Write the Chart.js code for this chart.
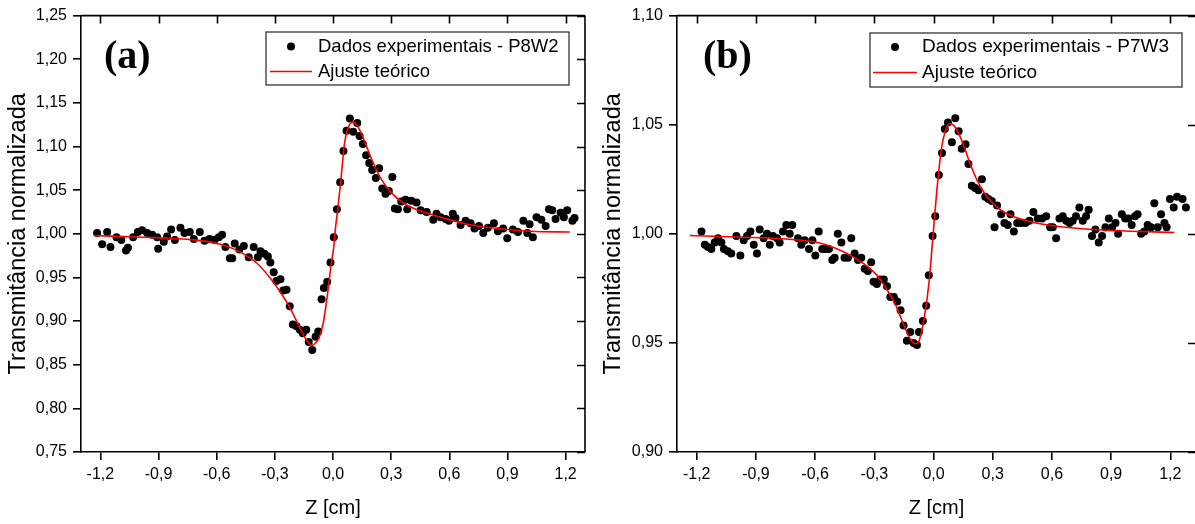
<!DOCTYPE html>
<html><head><meta charset="utf-8">
<script src="https://cdn.jsdelivr.net/npm/chart.js@4.4.0/dist/chart.umd.min.js"></script>
<style>
html,body{margin:0;padding:0;background:#fff;overflow:hidden;width:1195px;height:524px;}
#wa{position:absolute;left:0;top:0;width:595px;height:524px;}
#wb{position:absolute;left:595px;top:0;width:605px;height:524px;}
</style></head><body>
<div id="wa"><canvas id="ca" width="595" height="524"></canvas></div>
<div id="wb"><canvas id="cb" width="605" height="524"></canvas></div>
<script>
// ---------- data ----------
const xTickValues = [-1.2,-0.9,-0.6,-0.3,0.0,0.3,0.6,0.9,1.2];
const yTickValuesA = [0.75,0.80,0.85,0.90,0.95,1.00,1.05,1.10,1.15,1.20,1.25];
const yTickValuesB = [0.90,0.95,1.00,1.05,1.10];
const seriesLabelsA = ['Dados experimentais - P8W2','Ajuste teórico'];
const seriesLabelsB = ['Dados experimentais - P7W3','Ajuste teórico'];
const xAxisTitle = 'Z [cm]';
const yAxisTitle = 'Transmitância normalizada';

const expA = [[-1.217,1.001],[-1.191,0.988],[-1.165,1.002],[-1.148,0.985],[-1.117,0.996],[-1.092,0.993],[-1.068,0.981],[-1.058,0.984],[-1.031,0.996],[-1.007,1.002],[-0.985,1.004],[-0.959,1.001],[-0.933,0.999],[-0.907,0.996],[-0.902,0.983],[-0.873,0.991],[-0.856,0.997],[-0.835,1.005],[-0.816,0.993],[-0.787,1.007],[-0.766,1.001],[-0.739,1.002],[-0.718,0.994],[-0.687,1.002],[-0.663,0.992],[-0.637,0.994],[-0.612,0.993],[-0.589,0.996],[-0.572,0.999],[-0.555,0.985],[-0.532,0.972],[-0.520,0.972],[-0.507,0.989],[-0.483,0.982],[-0.460,0.986],[-0.435,0.973],[-0.409,0.985],[-0.388,0.973],[-0.374,0.980],[-0.354,0.977],[-0.336,0.974],[-0.323,0.967],[-0.306,0.956],[-0.292,0.946],[-0.271,0.948],[-0.257,0.935],[-0.240,0.936],[-0.223,0.917],[-0.207,0.896],[-0.188,0.894],[-0.171,0.890],[-0.156,0.886],[-0.138,0.890],[-0.125,0.876],[-0.107,0.867],[-0.090,0.882],[-0.076,0.888],[-0.059,0.925],[-0.047,0.938],[-0.030,0.945],[-0.013,0.967],[0.004,0.996],[0.020,1.028],[0.037,1.059],[0.054,1.095],[0.070,1.118],[0.087,1.132],[0.104,1.117],[0.125,1.127],[0.137,1.112],[0.154,1.103],[0.171,1.090],[0.187,1.081],[0.202,1.073],[0.221,1.064],[0.238,1.075],[0.254,1.052],[0.271,1.046],[0.288,1.049],[0.306,1.065],[0.319,1.029],[0.335,1.028],[0.352,1.037],[0.374,1.039],[0.383,1.028],[0.404,1.038],[0.431,1.036],[0.452,1.027],[0.483,1.025],[0.517,1.016],[0.534,1.023],[0.555,1.019],[0.581,1.017],[0.598,1.015],[0.618,1.023],[0.632,1.018],[0.658,1.010],[0.684,1.015],[0.710,1.012],[0.730,1.006],[0.753,1.009],[0.775,1.001],[0.799,1.007],[0.830,1.012],[0.851,1.003],[0.878,1.006],[0.899,0.995],[0.928,1.005],[0.954,1.002],[0.982,1.015],[1.002,1.001],[1.014,1.011],[1.031,0.996],[1.050,1.019],[1.075,1.016],[1.097,1.009],[1.114,1.028],[1.131,1.027],[1.148,1.017],[1.174,1.024],[1.191,1.019],[1.208,1.027],[1.235,1.015],[1.246,1.018]];

const fitAx = [-1.235,-0.977,-0.718,-0.581,-0.477,-0.391,-0.323,-0.271,-0.219,-0.177,-0.142,-0.116,-0.105,-0.095,-0.073,-0.051,-0.030,-0.009,0.004,0.013,0.025,0.042,0.059,0.076,0.099,0.121,0.142,0.168,0.202,0.245,0.297,0.365,0.452,0.555,0.693,0.847,1.019,1.222];
const fitAy = [0.998,0.996,0.993,0.988,0.979,0.966,0.949,0.933,0.914,0.895,0.880,0.873,0.8725,0.874,0.880,0.897,0.928,0.966,0.985,1.007,1.029,1.065,1.103,1.120,1.128,1.125,1.117,1.103,1.084,1.064,1.048,1.035,1.026,1.019,1.011,1.006,1.003,1.002];

const expB = [[-1.176,1.001],[-1.159,0.995],[-1.143,0.994],[-1.126,0.993],[-1.109,0.996],[-1.092,0.998],[-1.075,0.996],[-1.062,0.993],[-1.042,0.992],[-1.025,0.991],[-0.999,0.999],[-0.979,0.990],[-0.962,0.997],[-0.945,0.999],[-0.928,1.001],[-0.911,0.995],[-0.895,0.991],[-0.881,1.002],[-0.861,0.998],[-0.844,1.000],[-0.830,0.995],[-0.814,0.999],[-0.793,0.998],[-0.780,0.996],[-0.763,1.001],[-0.746,1.004],[-0.729,1.000],[-0.716,1.004],[-0.687,0.998],[-0.670,0.995],[-0.653,0.997],[-0.631,0.993],[-0.614,0.997],[-0.599,0.990],[-0.582,1.001],[-0.564,0.993],[-0.547,0.993],[-0.530,0.993],[-0.513,0.988],[-0.501,0.989],[-0.485,1.000],[-0.467,0.996],[-0.451,0.989],[-0.434,0.989],[-0.417,0.998],[-0.400,0.991],[-0.383,0.988],[-0.366,0.989],[-0.349,0.984],[-0.333,0.983],[-0.316,0.987],[-0.304,0.978],[-0.287,0.977],[-0.270,0.979],[-0.252,0.979],[-0.236,0.976],[-0.219,0.971],[-0.201,0.971],[-0.184,0.969],[-0.167,0.965],[-0.152,0.958],[-0.135,0.951],[-0.118,0.955],[-0.101,0.950],[-0.084,0.949],[-0.074,0.955],[-0.054,0.960],[-0.037,0.967],[-0.024,0.981],[-0.005,0.999],[0.009,1.008],[0.027,1.027],[0.043,1.037],[0.057,1.048],[0.073,1.051],[0.093,1.042],[0.110,1.053],[0.127,1.047],[0.143,1.039],[0.162,1.041],[0.177,1.032],[0.194,1.022],[0.211,1.021],[0.228,1.020],[0.245,1.025],[0.262,1.017],[0.278,1.016],[0.295,1.015],[0.309,1.003],[0.322,1.013],[0.343,1.009],[0.359,1.005],[0.376,1.004],[0.390,1.009],[0.407,1.001],[0.424,1.005],[0.444,1.005],[0.466,1.005],[0.486,1.006],[0.506,1.010],[0.528,1.007],[0.550,1.007],[0.571,1.008],[0.591,1.003],[0.604,1.003],[0.621,0.998],[0.638,1.007],[0.655,1.008],[0.672,1.006],[0.689,1.005],[0.705,1.006],[0.722,1.008],[0.739,1.012],[0.756,1.006],[0.773,1.008],[0.786,1.011],[0.803,0.999],[0.820,1.002],[0.837,0.996],[0.854,0.999],[0.871,1.003],[0.888,1.007],[0.905,1.003],[0.922,1.005],[0.935,1.000],[0.954,1.009],[0.971,1.007],[0.987,1.007],[1.004,1.004],[1.021,1.008],[1.034,1.009],[1.052,1.000],[1.068,1.001],[1.085,1.004],[1.102,1.003],[1.119,1.014],[1.136,1.003],[1.153,1.009],[1.170,1.005],[1.181,1.003],[1.198,1.016],[1.217,1.012],[1.234,1.017],[1.262,1.016],[1.279,1.012]];

const fitBx = [-1.235,-0.999,-0.746,-0.577,-0.459,-0.358,-0.290,-0.231,-0.189,-0.155,-0.122,-0.091,-0.071,-0.046,-0.022,-0.003,0.017,0.039,0.061,0.081,0.101,0.123,0.149,0.182,0.224,0.284,0.368,0.486,0.655,0.908,1.220];
const fitBy = [0.9992,0.9985,0.9976,0.9958,0.9919,0.9866,0.9813,0.9737,0.9668,0.9592,0.9524,0.9496,0.9516,0.9622,0.9785,0.9988,1.0201,1.0384,1.0475,1.0505,1.0498,1.0467,1.0414,1.0330,1.0239,1.0155,1.0094,1.0056,1.0031,1.0015,1.0006];

// ---------- styling ----------
const SANS = '"Liberation Sans", Arial, Helvetica, sans-serif';
const SERIF = '"Liberation Serif", "Times New Roman", serif';
const AXIS_W = 1.6;
const TICK_LEN = 8;

const framePlugin = {
  id: 'frame',
  beforeDatasetsDraw(chart) {
    const {ctx, chartArea: a, scales} = chart;
    ctx.save();
    ctx.strokeStyle = '#000';
    ctx.lineWidth = AXIS_W;
    ctx.beginPath();
    ctx.moveTo(a.left, a.top); ctx.lineTo(a.right, a.top);
    ctx.moveTo(a.right, a.top); ctx.lineTo(a.right, a.bottom);
    for (const t of scales.x.ticks) {
      const px = Math.round(scales.x.getPixelForValue(t.value)) + 0.5;
      ctx.moveTo(px, a.top); ctx.lineTo(px, a.top + TICK_LEN);
    }
    for (const t of scales.y.ticks) {
      const py = Math.round(scales.y.getPixelForValue(t.value)) + 0.5;
      ctx.moveTo(a.right, py); ctx.lineTo(a.right - TICK_LEN, py);
    }
    ctx.stroke();
    ctx.restore();
  }
};

const legendPlugin = {
  id: 'boxLegend',
  afterDraw(chart, args, o) {
    const ctx = chart.ctx;
    const ds = chart.data.datasets;
    ctx.save();
    ctx.strokeStyle = '#444';
    ctx.lineWidth = 1.4;
    ctx.strokeRect(o.x, o.y, o.w, o.h);
    ctx.fillStyle = '#000';
    ctx.beginPath(); ctx.arc(o.dotX, o.row1, 4, 0, Math.PI * 2); ctx.fill();
    ctx.strokeStyle = '#ff0000'; ctx.lineWidth = 1.6;
    ctx.beginPath(); ctx.moveTo(o.lineX1, o.row2); ctx.lineTo(o.lineX2, o.row2); ctx.stroke();
    ctx.font = o.fontSize + 'px ' + SANS;
    ctx.fillStyle = '#000'; ctx.textAlign = 'left'; ctx.textBaseline = 'middle';
    ctx.fillText(ds[0].label, o.textX, o.row1);
    ctx.fillText(ds[1].label, o.textX, o.row2);
    ctx.font = 'bold 40px ' + SERIF;
    ctx.textBaseline = 'alphabetic';
    ctx.fillText(o.panel, o.panelX, o.panelY);
    ctx.restore();
  }
};

function fmt(dec) { return v => Number(v).toFixed(dec).replace('.', ','); }

function makeChart(id, exp, fx, fy, labels, yTicks, yMin, yMax, xMin, xMax, yW, padRight, legendOpts) {
  const fitPts = fx.map((x, i) => ({x, y: fy[i]}));
  const expPts = exp.map(p => ({x: p[0], y: p[1]}));
  return new Chart(document.getElementById(id), {
    type: 'scatter',
    data: {
      datasets: [
        {label: labels[0], data: expPts, pointRadius: 4, pointHoverRadius: 4,
         backgroundColor: '#000', borderWidth: 0, order: 1},
        {label: labels[1], data: fitPts, showLine: true, pointRadius: 0, borderColor: '#ff0000',
         borderWidth: 1.6, cubicInterpolationMode: 'monotone', fill: false, order: 0}
      ]
    },
    options: {
      responsive: false, animation: false, devicePixelRatio: 1,
      layout: {padding: {left: 0, top: 15, right: padRight, bottom: 0}},
      plugins: {legend: {display: false}, tooltip: {enabled: false}, boxLegend: legendOpts},
      scales: {
        x: {
          type: 'linear', min: xMin, max: xMax,
          afterBuildTicks: s => { s.ticks = xTickValues.map(v => ({value: v})); },
          afterFit: s => { s.height = 72; },
          border: {display: true, color: '#000', width: AXIS_W},
          grid: {display: true, drawOnChartArea: false, drawTicks: true, tickLength: TICK_LEN, color: '#000', lineWidth: AXIS_W},
          ticks: {color: '#000', font: {family: SANS, size: 16}, padding: 5, maxRotation: 0, callback: fmt(1)},
          title: {display: true, text: xAxisTitle, color: '#000', font: {family: SANS, size: 20}, padding: {top: 0, bottom: 4}}
        },
        y: {
          type: 'linear', min: yMin, max: yMax,
          afterBuildTicks: s => { s.ticks = yTicks.map(v => ({value: v})); },
          afterFit: s => { s.width = yW; },
          border: {display: true, color: '#000', width: AXIS_W},
          grid: {display: true, drawOnChartArea: false, drawTicks: true, tickLength: TICK_LEN, color: '#000', lineWidth: AXIS_W},
          ticks: {color: '#000', font: {family: SANS, size: 16}, padding: 6, callback: fmt(2)},
          title: {display: true, text: yAxisTitle, color: '#000', font: {family: SANS, size: 23.5}, padding: {top: 4, bottom: 0}}
        }
      }
    },
    plugins: [framePlugin, legendPlugin]
  });
}

makeChart('ca', expA, fitAx, fitAy, seriesLabelsA, yTickValuesA, 0.75, 1.25, -1.3, 1.3, 81, 10,
  {x: 266, y: 32, w: 303, h: 53, dotX: 291, lineX1: 270, lineX2: 312, textX: 318, row1: 46.5, row2: 71.5,
   fontSize: 18.5, panel: '(a)', panelX: 104, panelY: 68});

makeChart('cb', expB, fitBx, fitBy, seriesLabelsB, yTickValuesB, 0.90, 1.10, -1.3, 1.33, 82, 4,
  {x: 275, y: 33, w: 312, h: 54, dotX: 300, lineX1: 278, lineX2: 322, textX: 327, row1: 47, row2: 72.5,
   fontSize: 19, panel: '(b)', panelX: 108, panelY: 68});
</script>
</body></html>
